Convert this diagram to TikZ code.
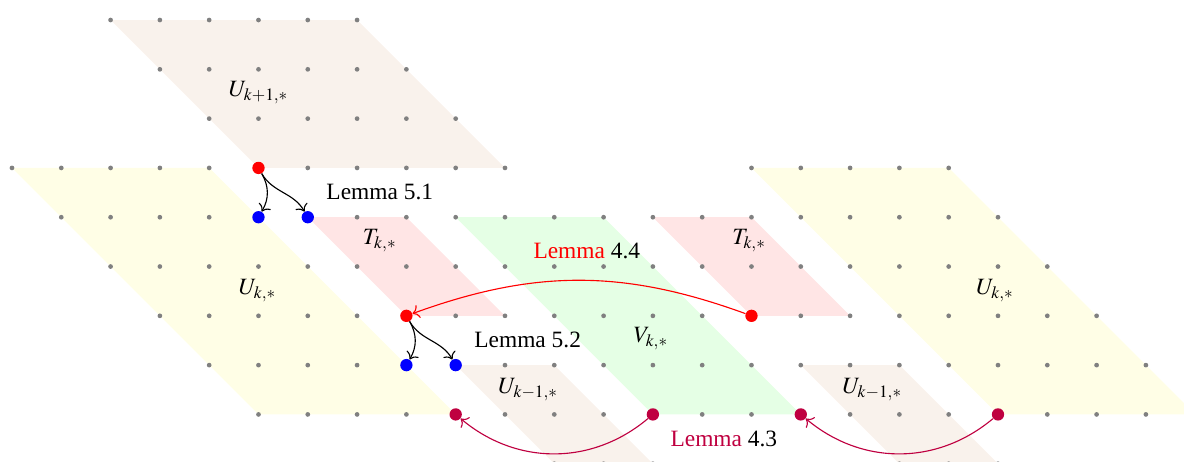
\documentclass[tikz,border=0pt]{standalone}
\usepackage{mathptmx}
\usepackage{fontspec}
\setmainfont{Liberation Serif}
\usetikzlibrary{arrows.meta}
\colorlet{ucol}{brown!10}
\colorlet{ykcol}{yellow!10}
\colorlet{tcol}{red!10}
\colorlet{vcol}{green!10}
\begin{document}
\begin{tikzpicture}[x=1cm,y=1cm,
  lab/.style={font=\fontsize{13.5}{16}\selectfont, inner sep=0pt},
  bigdot/.style={circle, inner sep=0pt, minimum size=0.25cm},
  arr/.style={-{To[scale=1.25]}, line width=0.65pt}]
\useasboundingbox (-0.243,0.406) rectangle (23.773,-8.945);
\clip (-0.243,0.406) rectangle (23.773,-8.945);
% regions
\fill[ucol] (2,0) -- (7,0) -- (10,-3) -- (5,-3) -- cycle;
\fill[ykcol] (0,-3) -- (4,-3) -- (9,-8) -- (5,-8) -- cycle;
\fill[tcol] (6,-4) -- (8,-4) -- (10,-6) -- (8,-6) -- cycle;
\fill[ucol] (9,-7) -- (11,-7) -- (14,-10) -- (12,-10) -- cycle;
\fill[vcol] (9,-4) -- (12,-4) -- (16,-8) -- (13,-8) -- cycle;
\fill[tcol] (13,-4) -- (15,-4) -- (17,-6) -- (15,-6) -- cycle;
\fill[ucol] (16,-7) -- (18,-7) -- (21,-10) -- (19,-10) -- cycle;
\fill[ykcol] (15,-3) -- (19,-3) -- (24,-8) -- (20,-8) -- cycle;
% lattice dots
\foreach \j in {0,1,2} \foreach \u in {2,...,7} \fill[gray] ({\u+\j},-\j) circle (0.048);
\foreach \u in {-3,...,7} \fill[gray] ({\u+3},-3) circle (0.048);
\foreach \u in {12,...,16} \fill[gray] ({\u+3},-3) circle (0.048);
\foreach \j in {4,...,8} \foreach \u in {-3,...,16} \fill[gray] ({\u+\j},-\j) circle (0.048);
\foreach \u in {2,3,4,9,10,11} \fill[gray] ({\u+9},-9) circle (0.048);
% special points
\node[bigdot, fill=red] (r1) at (5,-3) {};
\node[bigdot, fill=blue] (b1) at (5,-4) {};
\node[bigdot, fill=blue] (b2) at (6,-4) {};
\node[bigdot, fill=red] (r2) at (8,-6) {};
\node[bigdot, fill=blue] (b3) at (8,-7) {};
\node[bigdot, fill=blue] (b4) at (9,-7) {};
\node[bigdot, fill=red] (r3) at (15,-6) {};
\node[bigdot, fill=purple] (p1) at (9,-8) {};
\node[bigdot, fill=purple] (p2) at (13,-8) {};
\node[bigdot, fill=purple] (p3) at (16,-8) {};
\node[bigdot, fill=purple] (p4) at (20,-8) {};
% arrows
\draw[arr] (r1) to[out=-60,in=60] (b1);
\draw[arr] (r1) to[out=-60,in=120] (b2);
\draw[arr] (r2) to[out=-60,in=60] (b3);
\draw[arr] (r2) to[out=-60,in=120] (b4);
\draw[arr, red] (r3) to[bend right=20] (r2);
\draw[arr, purple] (p2) to[bend left=40] (p1);
\draw[arr, purple] (p4) to[bend left=40] (p3);
% labels
\node[lab] (l51) at (7.46,-3.49) {Lemma 5.1};
\node[lab] (l52) at (10.46,-6.49) {Lemma 5.2};
\node[lab] (l44) at (11.66,-4.68) {{\color{red}Lemma} 4.4};
\node[lab] (l43) at (14.44,-8.49) {{\color{purple}Lemma} 4.3};
\node[lab] (ukp) at (5.0,-1.48) {$U_{k+1,*}$};
\node[lab] (ukl) at (4.98,-5.49) {$U_{k,*}$};
\node[lab] (tkl) at (7.46,-4.47) {$T_{k,*}$};
\node[lab] (vk) at (12.96,-6.46) {$V_{k,*}$};
\node[lab] (tkr) at (14.95,-4.47) {$T_{k,*}$};
\node[lab] (ukr) at (19.94,-5.49) {$U_{k,*}$};
\node[lab] (ukml) at (10.47,-7.5) {$U_{k-1,*}$};
\node[lab] (ukmr) at (17.45,-7.5) {$U_{k-1,*}$};
\end{tikzpicture}
\end{document}
